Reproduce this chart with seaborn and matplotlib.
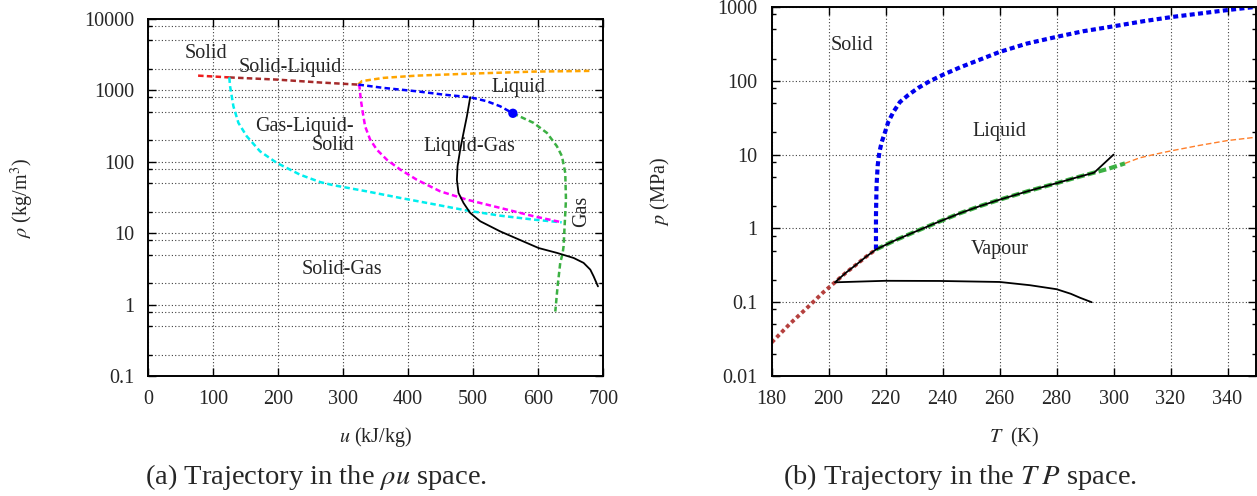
import matplotlib
matplotlib.use("Agg")
import matplotlib.pyplot as plt
from matplotlib.ticker import FixedLocator, FuncFormatter, LogLocator, NullFormatter
import seaborn as sns

# ---------------- rho-u space (left panel) ----------------
solid_u = [77, 125]
solid_rho = [1610, 1520]

solid_liq_u = [125, 198, 265, 323]
solid_liq_rho = [1520, 1417, 1290, 1205]

liq_melt_u = [323, 329, 362, 413, 490, 593, 682]
liq_melt_rho = [1205, 1350, 1497, 1610, 1710, 1833, 1877]

sat_liq_u = [323.6, 362, 413.4, 454.3, 495.4, 521, 541.5, 561]
sat_liq_rho = [1205, 1084, 971, 873, 802, 705, 599, 478]

sat_vap_u = [561, 592.8, 613.3, 628.7, 636.4, 641.5, 642.6, 640.5, 639, 637.4, 633.8, 629.7, 626.2]
sat_vap_rho = [478, 351, 254, 165, 120, 70, 29.5, 12.5, 6.6, 5.2, 3.84, 1.8, 0.8]

triple_gas_u = [125, 126.2, 131.3, 139, 151.8, 172.3, 198, 233.8, 264.6, 285,
                336, 387.7, 439, 490, 541.5, 593, 636]
triple_gas_rho = [1520, 1142, 599, 351, 228, 140, 96.6, 66, 52, 47,
                  38.6, 31.2, 25.5, 20.8, 17.6, 15.5, 14.2]

triple_liq_u = [323, 325.1, 327.2, 330.3, 333.8, 341.5, 351.8, 367.2, 387.7,
                413.4, 449.2, 490.3, 541.5, 592.8, 636.4]
triple_liq_rho = [1205, 1142, 742, 484, 314, 205, 148, 107, 78,
                  56, 38.6, 29.5, 22.6, 17.3, 14.2]

traj_u = [495.4, 490.3, 485.1, 480, 475.9, 474.9, 477.4, 485.1, 495.4, 510.8,
          541.5, 600.5, 628.7, 654.4, 669.7, 680, 685.1, 691.8]
traj_rho = [802, 434, 254, 148, 86.6, 56, 36.6, 26.5, 19.2, 14.7,
            10.6, 6.2, 5.3, 4.5, 3.84, 3.09, 2.49, 1.8]

crit_u = [561]
crit_rho = [478]

rho_ticks = [0.1, 1, 10, 100, 1000, 10000]
u_ticks = [0, 100, 200, 300, 400, 500, 600, 700]

# ---------------- T-p space (right panel) ----------------
subl_T = [180, 186.4, 192.3, 198, 202.2, 206, 210, 213, 216.6]
subl_p = [0.0285, 0.051, 0.083, 0.135, 0.186, 0.25, 0.33, 0.41, 0.518]

vap_T = [216.6, 223, 230, 238, 246, 253, 260, 270, 280, 287, 293.2, 298, 304]
vap_p = [0.518, 0.68, 0.89, 1.2, 1.6, 2.0, 2.45, 3.2, 4.1, 4.9, 5.7, 6.4, 7.6]

super_T = [304, 309, 315, 320, 330, 340, 350]
super_p = [7.6, 9.0, 10.2, 11.2, 13.3, 15.5, 17.2]

melt_T = [216.6, 216.6, 216.6, 216.8, 217.2, 217.8, 218.6, 219.8, 220.9, 222.7,
          225.0, 227.9, 231.4, 235.5, 240.2, 246.1, 260, 269.5, 280, 289.3,
          300, 310.4, 320.9, 330.3, 339.6, 350]
melt_p = [0.518, 0.58, 1.48, 3.79, 7.1, 10.8, 14.7, 20.2, 27.6, 37.7,
          51.5, 64, 80, 99, 121, 152, 246, 319, 394, 469,
          548, 641, 736, 816, 905, 1006]

traj_T = [300, 293.2, 287, 280, 270, 260, 253, 246, 238, 230, 223, 216.6, 213,
          210, 206, 202.2, 220, 239, 260, 270.6, 280, 285, 288.2, 292.3]
traj_p = [10, 5.7, 4.9, 4.1, 3.2, 2.45, 2.0, 1.6, 1.2, 0.89, 0.68, 0.518, 0.41,
          0.33, 0.25, 0.186, 0.195, 0.194, 0.188, 0.17, 0.15, 0.13, 0.115, 0.1]

p_ticks = [0.01, 0.1, 1, 10, 100, 1000]
T_ticks = [180, 200, 220, 240, 260, 280, 300, 320, 340]

sns.set_style("ticks")
plt.rcParams["font.family"] = ["Liberation Serif", "DejaVu Serif"]
plt.rcParams["mathtext.fontset"] = "stix"
plt.rcParams["font.size"] = 14.5

fig = plt.figure(figsize=(12.57, 4.96), dpi=100)
ax1 = fig.add_axes([148 / 1257, 1 - 376 / 496, 455.3 / 1257, 357 / 496])
ax2 = fig.add_axes([771.7 / 1257, 1 - 376 / 496, 484.3 / 1257, 369 / 496])

for ax in (ax1, ax2):
    ax.set_yscale("log")


def curve(ax, x, y, color, lw, ls):
    sns.lineplot(x=x, y=y, sort=False, estimator=None, ax=ax,
                 color=color, lw=lw, linestyle=ls)


dash = (0, (2.2, 1.3))
curve(ax1, solid_u, solid_rho, "#ee1c1c", 1.8, dash)
curve(ax1, solid_liq_u, solid_liq_rho, "#a52a2a", 1.8, dash)
curve(ax1, liq_melt_u, liq_melt_rho, "#ffa500", 1.8, dash)
curve(ax1, triple_gas_u, triple_gas_rho, "#00eeee", 1.8, dash)
curve(ax1, triple_liq_u, triple_liq_rho, "#ff00ff", 1.8, dash)
curve(ax1, sat_vap_u, sat_vap_rho, "#3cb043", 1.8, dash)
curve(ax1, sat_liq_u, sat_liq_rho, "#0000ff", 1.8, dash)
curve(ax1, traj_u, traj_rho, "black", 1.3, "-")
sns.scatterplot(x=crit_u, y=crit_rho, ax=ax1, color="#0000ff", s=45,
                edgecolor="none", zorder=5)

ax1.set_xlim(0, 700)
ax1.set_ylim(0.1, 10000)
ax1.xaxis.set_major_locator(FixedLocator(u_ticks))
ax1.yaxis.set_major_locator(FixedLocator(rho_ticks))
ax1.yaxis.set_minor_locator(LogLocator(base=10, subs=[2, 5, 8], numticks=20))
ax1.yaxis.set_minor_formatter(NullFormatter())
ax1.yaxis.set_major_formatter(FuncFormatter(lambda v, p: f"{v:g}"))
ax1.grid(True, which="both", axis="y", color="0.25", lw=0.8, linestyle=(0, (1, 2)))
ax1.grid(True, which="major", axis="x", color="0.25", lw=0.8, linestyle=(0, (1, 2)))

ax1.set_xlabel("$u$ (kJ/kg)")
ax1.set_ylabel(r"$\rho$ (kg/m$^3$)")
ax1.xaxis.set_label_coords(0.5, -0.137)
ax1.yaxis.set_label_coords(-0.245, 0.5)

ax1.text(89, 3270, "Solid", ha="center", va="center")
ax1.text(218, 2090, "Solid-Liquid", ha="center", va="center")
ax1.text(570, 1107, "Liquid", ha="center", va="center")
ax1.text(317, 231, "Gas-Liquid-\nSolid", ha="right", va="center",
         multialignment="right", linespacing=1.0)
ax1.text(494, 165, "Liquid-Gas", ha="center", va="center")
ax1.text(667, 20.3, "Gas", ha="center", va="center", rotation=90)
ax1.text(298, 3.1, "Solid-Gas", ha="center", va="center")

# right panel
curve(ax2, subl_T, subl_p, "#b5403e", 2.8, (0, (1.0, 0.8)))
curve(ax2, vap_T, vap_p, "#3cb043", 3.0, (0, (1.9, 0.8)))
curve(ax2, super_T, super_p, "#ff7f2a", 1.0, (0, (4, 2)))
curve(ax2, melt_T, melt_p, "#0000ee", 3.0, (0, (1.2, 0.8)))
curve(ax2, traj_T, traj_p, "black", 1.3, "-")

ax2.set_xlim(180, 350)
ax2.set_ylim(0.01, 1000)
ax2.xaxis.set_major_locator(FixedLocator(T_ticks))
ax2.yaxis.set_major_locator(FixedLocator(p_ticks))
ax2.yaxis.set_minor_locator(LogLocator(base=10, subs=[2, 5, 8], numticks=20))
ax2.yaxis.set_minor_formatter(NullFormatter())
ax2.yaxis.set_major_formatter(FuncFormatter(lambda v, p: f"{v:g}"))
ax2.grid(True, which="major", color="0.25", lw=0.8, linestyle=(0, (1, 2)))

ax2.set_xlabel("$T$  (K)")
ax2.set_ylabel("$p$ (MPa)")
ax2.xaxis.set_label_coords(0.5, -0.1355)
ax2.yaxis.set_label_coords(-0.205, 0.5)

ax2.text(208, 303, "Solid", ha="center", va="center")
ax2.text(260, 20.8, "Liquid", ha="center", va="center")
ax2.text(260, 0.51, "Vapour", ha="center", va="center")

for ax in (ax1, ax2):
    for s in ax.spines.values():
        s.set_visible(True)
        s.set_linewidth(1.4)
        s.set_color("black")
    ax.tick_params(which="both", direction="in", top=True, right=True,
                   color="black", width=1.0)
    ax.tick_params(which="major", length=6, pad=10, labelsize=14.5)
    ax.tick_params(which="minor", length=3)
    ax.set_axisbelow(True)

fig.text(0.2513, 1 - 477 / 496, r"(a) Trajectory in the $\rho u$ space.",
         ha="center", va="center", fontsize=20.5)
fig.text(0.7635, 1 - 477 / 496, r"(b) Trajectory in the $T\;P$ space.",
         ha="center", va="center", fontsize=20.5)

fig.savefig("out.png", dpi=100)
